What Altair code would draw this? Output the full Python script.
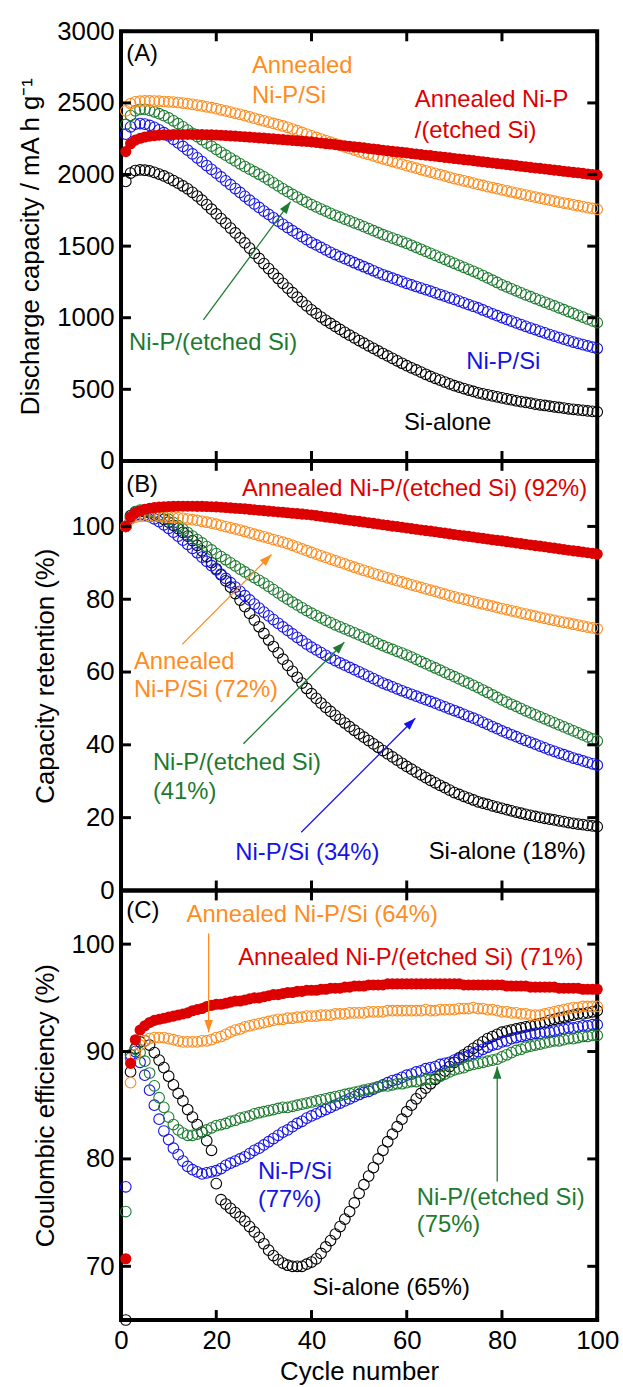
import math
import altair as alt
import pandas as pd

# ---------------------------------------------------------------- data
cycles = list(range(1, 101))

series_names = ["Si-alone", "Ni-P/Si", "Ni-P/(etched Si)",
                "Annealed Ni-P/Si", "Annealed Ni-P/(etched Si)"]
series_colors = {
    "Si-alone": "#000000",
    "Ni-P/Si": "#1414E6",
    "Ni-P/(etched Si)": "#1E7A30",
    "Annealed Ni-P/Si": "#FF8C1E",
    "Annealed Ni-P/(etched Si)": "#DD0000",
}

# discharge capacity / mA h g-1, cycles 1..100
cap_si = [1952, 2010, 2028, 2032, 2030, 2025, 2015, 2003, 1990, 1975,
          1958, 1940, 1920, 1900, 1876, 1850, 1821, 1790, 1758, 1725,
          1692, 1660, 1626, 1592, 1557, 1522, 1486, 1450, 1414, 1378,
          1343, 1308, 1274, 1240, 1207, 1175, 1143, 1112, 1083, 1055,
          1030, 1005, 982, 960, 939, 918, 898, 878, 859, 840,
          822, 804, 786, 768, 750, 733, 716, 699, 682, 665,
          650, 635, 620, 605, 590, 577, 564, 551, 538, 525,
          515, 505, 495, 485, 475, 468, 461, 454, 447, 440,
          433, 427, 420, 414, 408, 403, 397, 392, 387, 382,
          378, 373, 369, 364, 360, 356, 353, 349, 346, 342]
cap_nip_si = [2282, 2333, 2352, 2356, 2352, 2343, 2330, 2312, 2292, 2270,
              2246, 2221, 2196, 2170, 2144, 2117, 2090, 2063, 2036, 2010,
              1983, 1956, 1929, 1902, 1875, 1848, 1821, 1795, 1770, 1745,
              1721, 1698, 1675, 1652, 1630, 1608, 1587, 1566, 1545, 1525,
              1508, 1491, 1474, 1457, 1441, 1426, 1412, 1398, 1384, 1370,
              1356, 1342, 1328, 1314, 1300, 1288, 1276, 1264, 1252, 1240,
              1229, 1218, 1207, 1196, 1185, 1174, 1162, 1151, 1139, 1128,
              1116, 1104, 1092, 1080, 1068, 1054, 1041, 1027, 1014, 1000,
              988, 976, 964, 952, 940, 928, 917, 905, 894, 882,
              872, 861, 851, 840, 830, 821, 812, 803, 794, 785]
cap_nip_etched = [2350, 2412, 2445, 2455, 2455, 2448, 2438, 2425, 2411, 2395,
                  2375, 2355, 2333, 2310, 2288, 2265, 2243, 2220, 2198, 2175,
                  2155, 2135, 2115, 2095, 2075, 2056, 2038, 2020, 2002, 1984,
                  1963, 1942, 1921, 1900, 1880, 1861, 1843, 1825, 1807, 1790,
                  1774, 1759, 1744, 1729, 1715, 1702, 1689, 1676, 1663, 1650,
                  1636, 1622, 1608, 1594, 1580, 1568, 1556, 1544, 1532, 1520,
                  1506, 1492, 1478, 1464, 1450, 1436, 1422, 1408, 1394, 1380,
                  1366, 1352, 1338, 1324, 1310, 1294, 1278, 1262, 1246, 1230,
                  1216, 1202, 1188, 1174, 1160, 1147, 1134, 1121, 1108, 1095,
                  1082, 1069, 1056, 1043, 1030, 1017, 1004, 991, 978, 965]
cap_ann_si = [2445, 2495, 2508, 2512, 2514, 2514, 2513, 2512, 2510, 2508,
              2506, 2503, 2499, 2495, 2490, 2485, 2479, 2473, 2467, 2460,
              2452, 2444, 2436, 2428, 2420, 2411, 2402, 2393, 2384, 2375,
              2366, 2357, 2348, 2339, 2330, 2318, 2306, 2294, 2282, 2270,
              2259, 2248, 2237, 2226, 2215, 2204, 2193, 2182, 2171, 2160,
              2150, 2140, 2130, 2120, 2110, 2100, 2091, 2081, 2072, 2062,
              2053, 2044, 2035, 2026, 2017, 2008, 1999, 1990, 1981, 1972,
              1964, 1956, 1948, 1940, 1932, 1924, 1916, 1909, 1901, 1893,
              1886, 1878, 1871, 1863, 1856, 1849, 1842, 1835, 1828, 1821,
              1814, 1808, 1801, 1795, 1788, 1782, 1776, 1769, 1763, 1757]
cap_ann_etched = [2160, 2215, 2240, 2253, 2262, 2268, 2272, 2275, 2277, 2278,
                  2279, 2280, 2280, 2280, 2280, 2279, 2279, 2278, 2277, 2276,
                  2274, 2272, 2270, 2268, 2266, 2264, 2261, 2259, 2256, 2254,
                  2251, 2249, 2246, 2244, 2241, 2238, 2236, 2233, 2231, 2228,
                  2224, 2220, 2216, 2213, 2209, 2205, 2201, 2197, 2193, 2190,
                  2186, 2182, 2178, 2174, 2170, 2166, 2162, 2159, 2155, 2151,
                  2147, 2143, 2139, 2135, 2132, 2128, 2124, 2120, 2116, 2112,
                  2108, 2104, 2101, 2097, 2093, 2089, 2085, 2081, 2077, 2074,
                  2070, 2066, 2062, 2058, 2054, 2050, 2046, 2043, 2039, 2035,
                  2031, 2027, 2023, 2019, 2015, 2012, 2008, 2004, 2000, 1996]

# coulombic efficiency / %, cycles 1..100
ce_si = [65.0, 88.1, 90.3, 90.9, 91.0, 90.6, 89.9, 89.2, 88.5, 87.7,
         86.9, 86.1, 85.4, 84.6, 83.9, 83.2, 82.5, 81.7, 80.8, 77.7,
         76.2, 75.8, 75.4, 75.0, 74.6, 74.2, 73.7, 73.2, 72.7, 72.1,
         71.5, 71.0, 70.6, 70.3, 70.1, 70.0, 70.0, 70.0, 70.2, 70.4,
         70.7, 71.2, 71.8, 72.4, 73.0, 73.7, 74.4, 75.1, 75.9, 76.8,
         77.6, 78.4, 79.2, 80.0, 80.8, 81.6, 82.3, 83.0, 83.7, 84.4,
         85.0, 85.6, 86.1, 86.6, 87.0, 87.4, 87.8, 88.2, 88.6, 89.0,
         89.4, 89.7, 90.0, 90.3, 90.6, 90.9, 91.2, 91.4, 91.6, 91.8,
         91.9, 92.0, 92.1, 92.2, 92.3, 92.4, 92.5, 92.6, 92.7, 92.9,
         93.0, 93.1, 93.2, 93.3, 93.4, 93.5, 93.5, 93.6, 93.7, 93.8]
ce_nip_si = [77.4, 89.7, 90.0, 89.0, 87.8, 86.4, 85.0, 83.7, 82.6, 81.8,
             81.0, 80.4, 79.8, 79.3, 79.0, 78.8, 78.6, 78.7, 78.8, 78.9,
             79.1, 79.4, 79.6, 79.8, 80.0, 80.2, 80.5, 80.8, 81.0, 81.3,
             81.6, 81.9, 82.2, 82.5, 82.7, 83.0, 83.3, 83.5, 83.8, 84.0,
             84.2, 84.4, 84.6, 84.8, 85.0, 85.2, 85.4, 85.6, 85.8, 86.0,
             86.2, 86.3, 86.5, 86.7, 86.9, 87.1, 87.3, 87.4, 87.6, 87.8,
             87.9, 88.1, 88.2, 88.4, 88.5, 88.6, 88.8, 88.9, 89.0, 89.2,
             89.3, 89.5, 89.6, 89.8, 90.0, 90.2, 90.4, 90.6, 90.7, 90.9,
             91.0, 91.2, 91.3, 91.4, 91.5, 91.6, 91.7, 91.7, 91.8, 91.8,
             91.9, 92.0, 92.1, 92.2, 92.2, 92.3, 92.4, 92.4, 92.5, 92.5]
ce_nip_etched = [75.1, 89.4, 90.2, 89.9, 89.1, 88.0, 86.8, 85.7, 84.8, 83.9,
                 83.2, 82.7, 82.4, 82.2, 82.2, 82.3, 82.5, 82.7, 82.9, 83.1,
                 83.2, 83.3, 83.5, 83.6, 83.8, 83.9, 84.0, 84.2, 84.3, 84.4,
                 84.5, 84.6, 84.7, 84.8, 84.8, 84.9, 85.0, 85.1, 85.2, 85.3,
                 85.4, 85.5, 85.6, 85.7, 85.8, 85.9, 86.0, 86.1, 86.2, 86.3,
                 86.4, 86.5, 86.6, 86.7, 86.8, 86.8, 86.9, 87.0, 87.0, 87.1,
                 87.2, 87.2, 87.3, 87.4, 87.4, 87.5, 87.7, 87.9, 88.1, 88.3,
                 88.4, 88.5, 88.7, 88.8, 88.9, 89.0, 89.1, 89.2, 89.3, 89.5,
                 89.7, 89.9, 90.1, 90.2, 90.4, 90.5, 90.6, 90.7, 90.8, 90.9,
                 91.0, 91.0, 91.1, 91.2, 91.2, 91.3, 91.4, 91.4, 91.5, 91.5]
ce_ann_si = [64.0, 87.1, 89.7, 90.6, 91.0, 91.2, 91.3, 91.3, 91.3, 91.2,
             91.1, 91.0, 90.9, 90.9, 90.9, 90.9, 91.0, 91.0, 91.1, 91.3,
             91.4, 91.6, 91.8, 92.0, 92.1, 92.3, 92.4, 92.5, 92.6, 92.7,
             92.8, 92.9, 93.0, 93.0, 93.1, 93.1, 93.2, 93.2, 93.3, 93.3,
             93.3, 93.4, 93.4, 93.4, 93.5, 93.5, 93.5, 93.6, 93.6, 93.6,
             93.6, 93.7, 93.7, 93.7, 93.7, 93.8, 93.8, 93.8, 93.8, 93.8,
             93.8, 93.8, 93.8, 93.9, 93.8, 93.8, 93.9, 93.9, 93.9, 93.9,
             94.0, 94.0, 94.0, 94.1, 94.0, 94.0, 93.9, 93.9, 93.8, 93.7,
             93.7, 93.6, 93.6, 93.5, 93.5, 93.4, 93.4, 93.4, 93.5, 93.6,
             93.7, 93.8, 93.9, 94.0, 94.1, 94.1, 94.2, 94.2, 94.2, 94.2]
ce_ann_etched = [70.7, 88.9, 91.1, 92.0, 92.4, 92.7, 92.9, 93.0, 93.1, 93.2,
                 93.3, 93.4, 93.5, 93.6, 93.8, 93.9, 94.0, 94.2, 94.3, 94.4,
                 94.4, 94.5, 94.6, 94.7, 94.7, 94.8, 94.9, 95.0, 95.0, 95.1,
                 95.2, 95.3, 95.3, 95.4, 95.5, 95.5, 95.6, 95.6, 95.7, 95.7,
                 95.7, 95.8, 95.8, 95.9, 95.9, 95.9, 96.0, 96.0, 96.1, 96.1,
                 96.1, 96.2, 96.2, 96.2, 96.2, 96.3, 96.3, 96.3, 96.3, 96.3,
                 96.3, 96.3, 96.3, 96.3, 96.3, 96.3, 96.3, 96.3, 96.3, 96.3,
                 96.3, 96.2, 96.2, 96.2, 96.2, 96.2, 96.2, 96.2, 96.2, 96.2,
                 96.1, 96.1, 96.1, 96.1, 96.1, 96.0, 96.0, 96.0, 96.0, 96.0,
                 96.0, 95.9, 95.9, 95.9, 95.9, 95.9, 95.8, 95.8, 95.8, 95.8]

capacity = dict(zip(series_names,
                    [cap_si, cap_nip_si, cap_nip_etched, cap_ann_si, cap_ann_etched]))
efficiency = dict(zip(series_names,
                      [ce_si, ce_nip_si, ce_nip_etched, ce_ann_si, ce_ann_etched]))
# capacity retention relative to the first cycle
retention = {k: [round(v / vals[0] * 100, 2) for v in vals] for k, vals in capacity.items()}

cycle_ticks = [0, 20, 40, 60, 80, 100]
cap_ticks = [0, 500, 1000, 1500, 2000, 2500, 3000]
ret_ticks = [0, 20, 40, 60, 80, 100]
ce_ticks = [70, 80, 90, 100]

# annotation text: (cycle, value, text, series colour key)
texts_a = [
    (1.1, 2840, "(A)", "Si-alone"),
    (27.5, 2757, "Annealed", "Annealed Ni-P/Si"),
    (27.5, 2550, "Ni-P/Si", "Annealed Ni-P/Si"),
    (61.7, 2522, "Annealed Ni-P", "Annealed Ni-P/(etched Si)"),
    (61.7, 2307, "/(etched Si)", "Annealed Ni-P/(etched Si)"),
    (1.7, 824, "Ni-P/(etched Si)", "Ni-P/(etched Si)"),
    (72.5, 693, "Ni-P/Si", "Ni-P/Si"),
    (59.4, 263, "Si-alone", "Si-alone"),
]
texts_b = [
    (1.1, 111.4, "(B)", "Si-alone"),
    (25.4, 110.4, "Annealed Ni-P/(etched Si) (92%)", "Annealed Ni-P/(etched Si)"),
    (2.7, 62.7, "Annealed", "Annealed Ni-P/Si"),
    (2.7, 55.0, "Ni-P/Si (72%)", "Annealed Ni-P/Si"),
    (6.7, 34.9, "Ni-P/(etched Si)", "Ni-P/(etched Si)"),
    (6.7, 27.0, "(41%)", "Ni-P/(etched Si)"),
    (24.0, 10.4, "Ni-P/Si (34%)", "Ni-P/Si"),
    (64.6, 10.6, "Si-alone (18%)", "Si-alone"),
]
texts_c = [
    (1.1, 103.06, "(C)", "Si-alone"),
    (13.75, 102.7, "Annealed Ni-P/Si (64%)", "Annealed Ni-P/Si"),
    (24.6, 98.7, "Annealed Ni-P/(etched Si) (71%)", "Annealed Ni-P/(etched Si)"),
    (28.75, 78.8, "Ni-P/Si", "Ni-P/Si"),
    (28.75, 76.2, "(77%)", "Ni-P/Si"),
    (62.1, 76.4, "Ni-P/(etched Si)", "Ni-P/(etched Si)"),
    (62.1, 73.8, "(75%)", "Ni-P/(etched Si)"),
    (40.2, 68.0, "Si-alone (65%)", "Si-alone"),
]
# arrows: (tail cycle, tail value, head cycle, head value, colour key)
arrows_a = [(17.3, 985, 35.6, 1810, "Ni-P/(etched Si)")]
arrows_b = [
    (12.85, 67.6, 31.6, 92.3, "Annealed Ni-P/Si"),
    (25.7, 40.3, 46.9, 68.2, "Ni-P/(etched Si)"),
    (37.85, 16.0, 61.8, 47.3, "Ni-P/Si"),
]
arrows_c = [
    (18.4, 101.0, 18.4, 91.8, "Annealed Ni-P/Si"),
    (79.0, 77.9, 79.0, 88.6, "Ni-P/(etched Si)"),
]

# ---------------------------------------------------------------- styling
FONT = "Liberation Sans"
FS_AXIS = 26
FS_NOTE = 24
W, H = 480, 433
X_DOMAIN = [0, 100]
TICK_LEN = 10
ARROW_HEAD = "M0,0L0.35,1L-0.35,1Z"


def long_frame(values):
    rows = []
    for name, vals in values.items():
        for c, v in zip(cycles, vals):
            rows.append({"cycle": c, "value": v, "series": name})
    return pd.DataFrame(rows)


def label_axis(orient, values):
    return alt.Axis(orient=orient, values=values, format="d", labels=True, ticks=False,
                    domain=False, grid=False, labelFont=FONT, labelFontSize=FS_AXIS,
                    labelColor="black", labelPadding=7 if orient == "left" else 8,
                    labelFlush=False, labelOverlap=False,
                    titleFont=FONT, titleFontSize=FS_AXIS, titleFontWeight="normal",
                    titleColor="black", titlePadding=13 if orient == "left" else 5)


def panel(values, y_domain, y_ticks, y_title, texts, arrows, bottom_labels):
    df = long_frame(values)
    df = df[(df["value"] >= y_domain[0]) & (df["value"] <= y_domain[1])]
    xs = alt.Scale(domain=X_DOMAIN, nice=False, zero=False)
    ys = alt.Scale(domain=y_domain, nice=False, zero=False)

    layers = []
    for i, name in enumerate(series_names):
        sub = df[df["series"] == name]
        color = series_colors[name]
        if name == "Annealed Ni-P/(etched Si)":
            mark = alt.Chart(sub).mark_point(shape="circle", filled=True, size=125,
                                             opacity=1, strokeWidth=0, color=color)
        else:
            mark = alt.Chart(sub).mark_point(shape="circle", filled=False, size=115,
                                             opacity=1, strokeWidth=1.1, color=color)
        if i == 0:
            x_enc = alt.X("cycle:Q", scale=xs,
                          axis=label_axis("bottom", cycle_ticks) if bottom_labels else None,
                          title="Cycle number" if bottom_labels else None)
            y_enc = alt.Y("value:Q", scale=ys, axis=label_axis("left", y_ticks), title=y_title)
        else:
            x_enc = alt.X("cycle:Q", scale=xs, axis=None)
            y_enc = alt.Y("value:Q", scale=ys, axis=None)
        layers.append(mark.encode(x=x_enc, y=y_enc))

    # inward tick marks on all four sides
    ytk = pd.DataFrame({"t": y_ticks})
    xtk = pd.DataFrame({"t": cycle_ticks})
    tick_style = dict(color="black", strokeWidth=3)
    layers.append(alt.Chart(ytk).mark_rule(**tick_style).encode(
        y=alt.Y("t:Q", scale=ys, axis=None), x=alt.value(0), x2=alt.value(TICK_LEN)))
    layers.append(alt.Chart(ytk).mark_rule(**tick_style).encode(
        y=alt.Y("t:Q", scale=ys, axis=None), x=alt.value(W - TICK_LEN), x2=alt.value(W)))
    layers.append(alt.Chart(xtk).mark_rule(**tick_style).encode(
        x=alt.X("t:Q", scale=xs, axis=None), y=alt.value(0), y2=alt.value(TICK_LEN)))
    layers.append(alt.Chart(xtk).mark_rule(**tick_style).encode(
        x=alt.X("t:Q", scale=xs, axis=None), y=alt.value(H - TICK_LEN), y2=alt.value(H)))

    tdf = pd.DataFrame(texts, columns=["c", "v", "text", "key"])
    tdf["color"] = tdf["key"].map(series_colors)
    layers.append(alt.Chart(tdf).mark_text(align="left", baseline="middle",
                                           font=FONT, fontSize=FS_NOTE).encode(
        x=alt.X("c:Q", scale=xs, axis=None),
        y=alt.Y("v:Q", scale=ys, axis=None),
        text="text:N",
        color=alt.Color("color:N", scale=None),
    ))

    px_x = W / (X_DOMAIN[1] - X_DOMAIN[0])
    px_y = H / (y_domain[1] - y_domain[0])
    adf = pd.DataFrame(arrows, columns=["c", "v", "c2", "v2", "key"])
    adf["color"] = adf["key"].map(series_colors)
    adf["angle"] = [
        math.degrees(math.atan2((r.c2 - r.c) * px_x, (r.v2 - r.v) * px_y)) % 360
        for r in adf.itertuples()
    ]
    layers.append(alt.Chart(adf).mark_rule(strokeWidth=1.3).encode(
        x=alt.X("c:Q", scale=xs, axis=None),
        y=alt.Y("v:Q", scale=ys, axis=None),
        x2="c2:Q", y2="v2:Q",
        color=alt.Color("color:N", scale=None),
    ))
    layers.append(alt.Chart(adf).mark_point(shape=ARROW_HEAD, filled=True, size=600,
                                            opacity=1, strokeWidth=0).encode(
        x=alt.X("c2:Q", scale=xs, axis=None),
        y=alt.Y("v2:Q", scale=ys, axis=None),
        angle=alt.Angle("angle:Q", scale=None),
        color=alt.Color("color:N", scale=None),
    ))

    return alt.layer(*layers).resolve_axis(x="independent", y="independent").properties(
        width=W, height=H)


panel_a = panel(capacity, [0, 3000], cap_ticks, "Discharge capacity / mA h g\u207b\u00b9",
                texts_a, arrows_a, False)
panel_b = panel(retention, [0, 118], ret_ticks, "Capacity retention (%)",
                texts_b, arrows_b, False)
panel_c = panel(efficiency, [65, 105], ce_ticks, "Coulombic efficiency (%)",
                texts_c, arrows_c, True)

chart = alt.vconcat(panel_a, panel_b, panel_c, spacing=0, bounds="flush").properties(
    padding={"left": 16, "top": 11, "right": 2, "bottom": 2}
).configure_view(stroke="black", strokeWidth=4)

chart.save("out.html", embed_options={"renderer": "svg", "actions": False})
